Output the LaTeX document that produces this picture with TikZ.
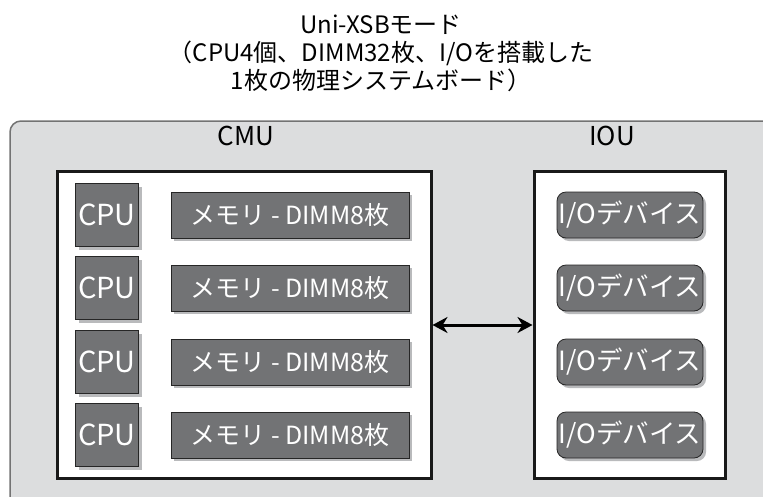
\documentclass[tikz,border=0pt]{standalone}
\usepackage{fontspec}
\setmainfont{Noto Sans CJK JP}
\usetikzlibrary{shadows,arrows.meta}
\definecolor{boardgray}{HTML}{DCDDDE}
\definecolor{partgray}{HTML}{727375}
\definecolor{shadegray}{HTML}{B9BABC}
\tikzset{
  part/.style={draw=black!85, line width=0.8pt, fill=partgray, text=white,
    inner sep=0pt, font=\fontsize{25}{27}\selectfont,
    drop shadow={shadow xshift=3pt, shadow yshift=-3pt, fill=shadegray, opacity=1}},
  cpubox/.style={part, minimum width=63pt, minimum height=63pt, font=\fontsize{29}{31}\selectfont},
  membox/.style={part, minimum width=238pt, minimum height=46pt},
  iobox/.style={part, rounded corners=9pt, minimum width=146pt, minimum height=46pt, font=\fontsize{26.5}{28}\selectfont},
  unitbox/.style={draw=black!90, line width=3pt, fill=white, inner sep=0pt},
  unitlabel/.style={font=\fontsize{26}{28}\selectfont}
}
\begin{document}
\begin{tikzpicture}[x=1pt,y=-1pt]
    \useasboundingbox (0,0) rectangle (763,496);
    \begin{scope}
    \clip (0,0) rectangle (763,496);
    \draw[draw=black!55, line width=1.5pt, fill=boardgray, rounded corners=11pt] (10,121) rectangle (800,540);
    \end{scope}
    \node[align=center, font=\fontsize{24}{28}\selectfont] (title) at (381,53)
      {Uni-XSBモード\\（CPU4個、DIMM32枚、I/Oを搭載した\\1枚の物理システムボード）};
    \node[unitlabel] (cmulabel) at (246,136) {CMU};
    \node[unitlabel] (ioulabel) at (612,136) {IOU};
    \node[unitbox, minimum width=374pt, minimum height=307pt] (cmu) at (244,325) {};
    \node[unitbox, minimum width=191pt, minimum height=307pt] (iou) at (629.5,325) {};
    \foreach \i/\y in {1/215,2/288,3/362,4/435} {
      \node[cpubox] (cpu\i) at (107,\y) {CPU};
      \node[membox] (mem\i) at (290,\y) {メモリ - DIMM8枚};
      \node[iobox] (io\i) at (630,\y) {I/Oデバイス};
    }
    \draw[{Stealth[length=15pt,width=16pt]}-{Stealth[length=15pt,width=16pt]}, line width=3pt] (cmu) -- (iou);
\end{tikzpicture}
\end{document}
